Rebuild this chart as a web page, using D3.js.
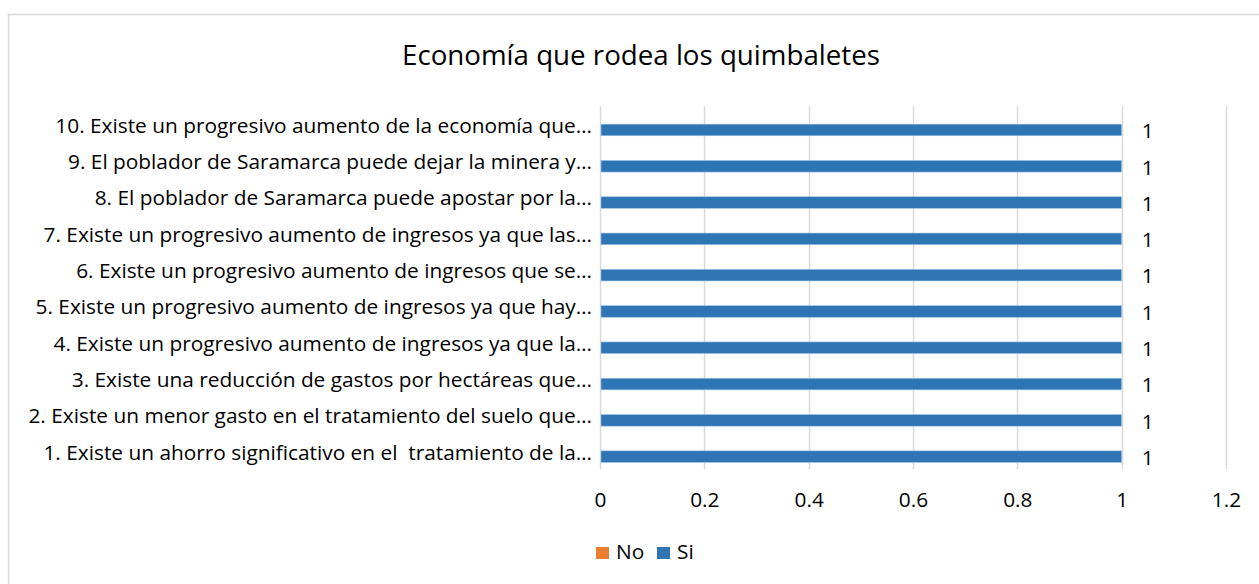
<!DOCTYPE html>
<html>
<head>
<meta charset="utf-8">
<script src="https://cdn.jsdelivr.net/npm/d3@7"></script>
<style>
  html, body { margin: 0; padding: 0; background: #fff; }
  svg { display: block; font-family: "Open Sans", sans-serif; }
</style>
</head>
<body>
<svg id="chart" width="1259" height="584"></svg>
<script>
const title = "Economía que rodea los quimbaletes";
const categories = [
  "1. Existe un ahorro significativo en el  tratamiento de la…",
  "2. Existe un menor gasto en el tratamiento del suelo que…",
  "3. Existe una reducción de gastos por hectáreas que…",
  "4. Existe un progresivo aumento de ingresos ya que la…",
  "5. Existe un progresivo aumento de ingresos ya que hay…",
  "6. Existe un progresivo aumento de ingresos que se…",
  "7. Existe un progresivo aumento de ingresos ya que las…",
  "8. El poblador de Saramarca puede apostar por la…",
  "9. El poblador de Saramarca puede dejar la minera y…",
  "10. Existe un progresivo aumento de la economía que…"
];
const seriesNames = ["No", "Si"];
const noValues = [0, 0, 0, 0, 0, 0, 0, 0, 0, 0];
const siValues = [1, 1, 1, 1, 1, 1, 1, 1, 1, 1];
const xTicks = [0, 0.2, 0.4, 0.6, 0.8, 1, 1.2];
const colors = { No: "#ED7D31", Si: "#2E75B6" };

const FONT = "'Open Sans', sans-serif";
const svg = d3.select("#chart");

// measure helper: font size so that text spans a target width
function fitSize(txt, target, base) {
  const t = svg.append("text").attr("font-size", base).attr("font-family", FONT)
    .style("white-space", "pre").text(txt);
  const w = t.node().getComputedTextLength();
  t.remove();
  return base * target / w;
}
const labelSize = fitSize(categories[9], 537, 16);
const titleSize = fitSize(title, 478, 22);

svg.append("rect").attr("x", 8.5).attr("y", 14.5).attr("width", 1270).attr("height", 600)
  .attr("fill", "#fff").attr("stroke", "#D9D9D9").attr("stroke-width", 1.5);

const plot = { left: 600, right: 1226, top: 106, bottom: 469 };
const x = d3.scaleLinear().domain([0, 1.2]).range([plot.left, plot.right]);
const y = d3.scaleBand().domain(categories.slice().reverse()).range([plot.top, plot.bottom]);
const inner = d3.scaleBand().domain(["No", "Si"]).range([0, y.bandwidth()]).paddingOuter(0.5).paddingInner(0);

// gridlines
svg.append("g").selectAll("line").data(xTicks).join("line")
  .attr("x1", d => Math.round(x(d)) + 0.5).attr("x2", d => Math.round(x(d)) + 0.5)
  .attr("y1", plot.top).attr("y2", plot.bottom)
  .attr("stroke", "#D9D9D9").attr("stroke-width", 1.5);

// title
svg.append("text").attr("x", 641).attr("y", 65).attr("text-anchor", "middle")
  .attr("font-size", titleSize).attr("font-family", FONT).attr("fill", "#000").text(title);

// category labels
const yAxis = d3.axisLeft(y).tickSize(0).tickPadding(8);
const gy = svg.append("g").attr("transform", `translate(${plot.left},2)`).call(yAxis);
gy.select(".domain").remove();
gy.selectAll("text").attr("font-size", labelSize).attr("fill", "#000")
  .attr("font-family", FONT).style("white-space", "pre");

// x axis labels
const xAxis = d3.axisBottom(x).tickValues(xTicks).tickSize(0).tickPadding(23).tickFormat(d3.format("~g"));
const gx = svg.append("g").attr("transform", `translate(0,${plot.bottom})`).call(xAxis);
gx.select(".domain").remove();
gx.selectAll("text").attr("font-size", labelSize).attr("fill", "#000").attr("font-family", FONT);

// bars
const rows = categories.map((c, i) => ({ cat: c, No: noValues[i], Si: siValues[i] }));
seriesNames.forEach(s => {
  svg.append("g").selectAll("rect").data(rows).join("rect")
    .attr("x", x(0) + 1)
    .attr("y", d => y(d.cat) + inner(s))
    .attr("width", d => Math.max(0, x(d[s]) - x(0) - 1))
    .attr("height", inner.bandwidth() - 0.5)
    .attr("fill", colors[s])
    .attr("stroke", d => d[s] > 0 ? "#9DC3E6" : "none")
    .attr("stroke-width", 0.6);
});

// data labels for Si
svg.append("g").selectAll("text").data(rows).join("text")
  .attr("x", d => x(d.Si) + 20)
  .attr("y", d => y(d.cat) + inner("Si") + inner.bandwidth() / 2 + 8)
  .attr("font-size", labelSize).attr("fill", "#000").attr("font-family", FONT)
  .text(d => d.Si);

// legend
const legend = svg.append("g");
const legendItems = [{ name: "No", x: 596 }, { name: "Si", x: 657 }];
legendItems.forEach(it => {
  legend.append("rect").attr("x", it.x).attr("y", 547).attr("width", 13).attr("height", 12).attr("fill", colors[it.name]);
  legend.append("text").attr("x", it.x + 20).attr("y", 559).attr("font-size", labelSize)
    .attr("font-family", FONT).attr("fill", "#000").text(it.name);
});
</script>
</body>
</html>
